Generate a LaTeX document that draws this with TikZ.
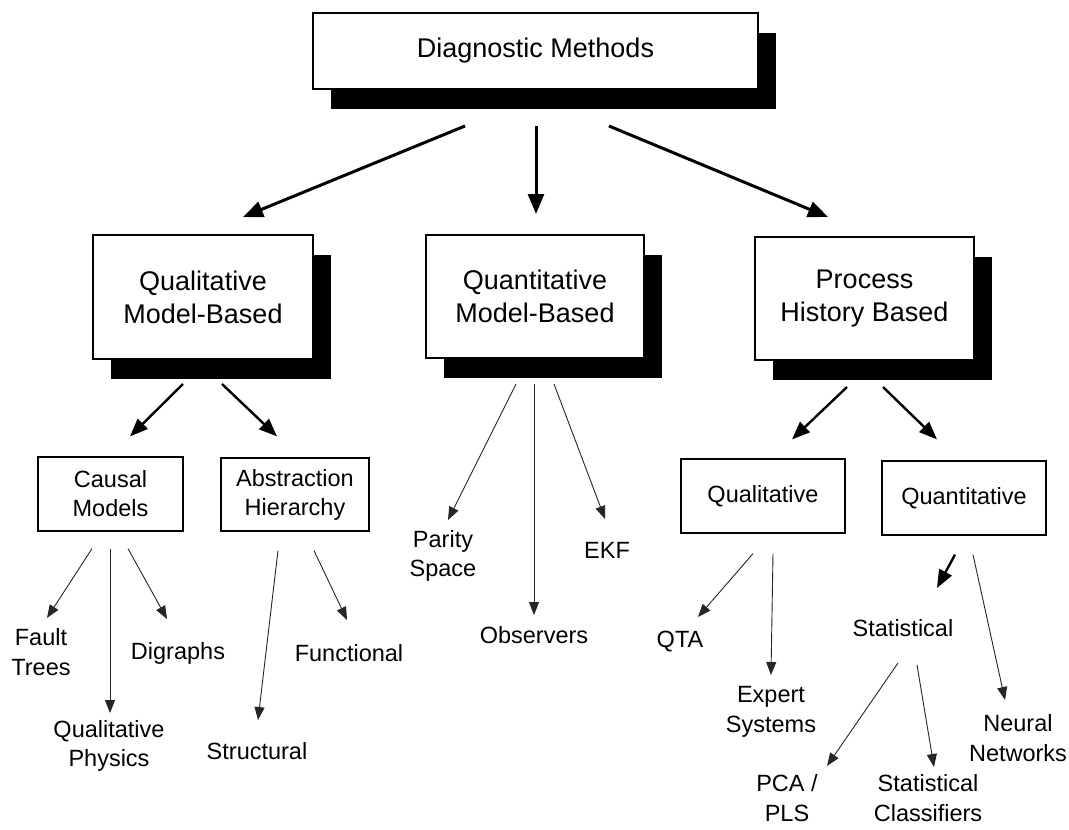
\documentclass[tikz,border=0pt]{standalone}
\usepackage{fontspec}
\setmainfont{Liberation Sans}
\usetikzlibrary{arrows.meta,shadows}
\begin{document}
\begin{tikzpicture}[x=1pt,y=-1pt,
  bigbox/.style={draw, line width=2pt, fill=white, inner sep=0pt, align=center,
    font=\fontsize{27}{33}\selectfont,
    general shadow={fill=black, shadow xshift=18pt, shadow yshift=-20pt}},
  smallbox/.style={draw, line width=1.2pt, fill=white, inner sep=0pt, align=center,
    font=\fontsize{23.5}{29}\selectfont},
  leaf/.style={inner sep=0pt, align=center, font=\fontsize{23.5}{29.5}\selectfont},
  heavy/.style={line width=3pt, -{Triangle[length=20pt,width=16pt]}},
  medium/.style={line width=2.4pt, -{Triangle[length=18pt,width=14pt]}},
  light/.style={line width=0.9pt, black!85, -{Triangle[length=13pt,width=10pt]}},
]
\useasboundingbox[fill=white] (0,0) rectangle (1069,830);

% main categories
\node[bigbox, minimum width=445pt, minimum height=76pt] (top) at (535.5,51) {Diagnostic Methods};
\node[bigbox, minimum width=220pt, minimum height=124pt] (qmb) at (203,297) {Qualitative\\Model-Based};
\node[bigbox, minimum width=218pt, minimum height=123pt] (qnmb) at (535,296.5) {Quantitative\\Model-Based};
\node[bigbox, minimum width=219pt, minimum height=123pt] (phb) at (864.5,298.5) {Process\\History Based};

% sub-categories
\node[smallbox, minimum width=145pt, minimum height=74pt] (causal) at (110.5,494) {Causal\\Models};
\node[smallbox, minimum width=148pt, minimum height=73pt] (abs) at (295,494.5) {Abstraction\\Hierarchy};
\node[smallbox, minimum width=164pt, minimum height=74pt] (qual) at (763,496) {Qualitative};
\node[smallbox, minimum width=164pt, minimum height=74pt] (quant) at (964,498) {Quantitative};

% methods
\node[leaf] (fault) at (41,652) {Fault\\Trees};
\node[leaf] (qphys) at (109,746) {Qualitative\\Physics};
\node[leaf] (digraphs) at (178,653) {Digraphs};
\node[leaf] (structural) at (257,751) {Structural};
\node[leaf] (functional) at (349,653) {Functional};
\node[leaf] (parity) at (443,556) {Parity\\Space};
\node[leaf] (observers) at (534,635) {Observers};
\node[leaf] (ekf) at (607,550) {EKF};
\node[leaf] (qta) at (680,642) {QTA};
\node[leaf] (expert) at (771,712) {Expert\\Systems};
\node[leaf] (statistical) at (903,628) {Statistical};
\node[leaf] (pca) at (787,798) {PCA /\\PLS};
\node[leaf] (statclass) at (928,798) {Statistical\\Classifiers};
\node[leaf] (neural) at (1018,738) {Neural\\Networks};

% top level
\draw[heavy] ([xshift=-70.5pt,yshift=-36pt]top.south) -- ([xshift=40pt,yshift=17pt]qmb.north);
\draw[heavy] ([xshift=0.5pt,yshift=-36pt]top.south) -- ([xshift=1pt,yshift=20pt]qnmb.north);
\draw[heavy] ([xshift=73.5pt,yshift=-36pt]top.south) -- ([xshift=-36.5pt,yshift=19pt]phb.north);

% qualitative model-based
\draw[medium] ([xshift=-20pt,yshift=-24pt]qmb.south) -- ([xshift=19.5pt,yshift=20pt]causal.north);
\draw[medium] ([xshift=19pt,yshift=-24pt]qmb.south) -- ([xshift=-18pt,yshift=21pt]abs.north);

% quantitative model-based
\draw[light] ([xshift=-19pt,yshift=-25pt]qnmb.south) -- ([xshift=5pt,yshift=36pt]parity.center);
\draw[light] ([xshift=-1pt,yshift=-25pt]qnmb.south) -- ([yshift=20pt]observers.center);
\draw[light] ([xshift=19pt,yshift=-25pt]qnmb.south) -- ([xshift=-2pt,yshift=31pt]ekf.center);

% process history based
\draw[medium] ([xshift=-17.5pt,yshift=-26pt]phb.south) -- ([xshift=29pt,yshift=19pt]qual.north);
\draw[medium] ([xshift=18.5pt,yshift=-26pt]phb.south) -- ([xshift=-27pt,yshift=21pt]quant.north);

% causal models
\draw[light] ([xshift=-18.5pt,yshift=-17pt]causal.south) -- ([xshift=6pt,yshift=34pt]fault.center);
\draw[light] ([xshift=-0.5pt,yshift=-17pt]causal.south) -- ([xshift=1pt,yshift=33pt]qphys.center);
\draw[light] ([xshift=17.5pt,yshift=-17pt]causal.south) -- ([xshift=-11pt,yshift=34pt]digraphs.center);

% abstraction hierarchy
\draw[light] ([xshift=-17pt,yshift=-19pt]abs.south) -- ([xshift=1pt,yshift=31pt]structural.center);
\draw[light] ([xshift=19pt,yshift=-19pt]abs.south) -- ([xshift=-2pt,yshift=33pt]functional.center);

% qualitative history
\draw[light] ([xshift=-10pt,yshift=-20pt]qual.south) -- ([xshift=18pt,yshift=25pt]qta.center);
\draw[light] ([xshift=10pt,yshift=-20pt]qual.south) -- ([yshift=37pt]expert.center);

% quantitative history
\draw[medium] ([xshift=-9pt,yshift=-19pt]quant.south) -- ([xshift=34pt,yshift=40pt]statistical.center);
\draw[light] ([xshift=9pt,yshift=-19pt]quant.south) -- ([xshift=-13pt,yshift=38pt]neural.center);

% statistical
\draw[light] ([xshift=-5pt,yshift=-35pt]statistical.center) -- ([xshift=40pt,yshift=32pt]pca.center);
\draw[light] ([xshift=14pt,yshift=-37pt]statistical.center) -- ([xshift=6pt,yshift=31pt]statclass.center);
\end{tikzpicture}
\end{document}
